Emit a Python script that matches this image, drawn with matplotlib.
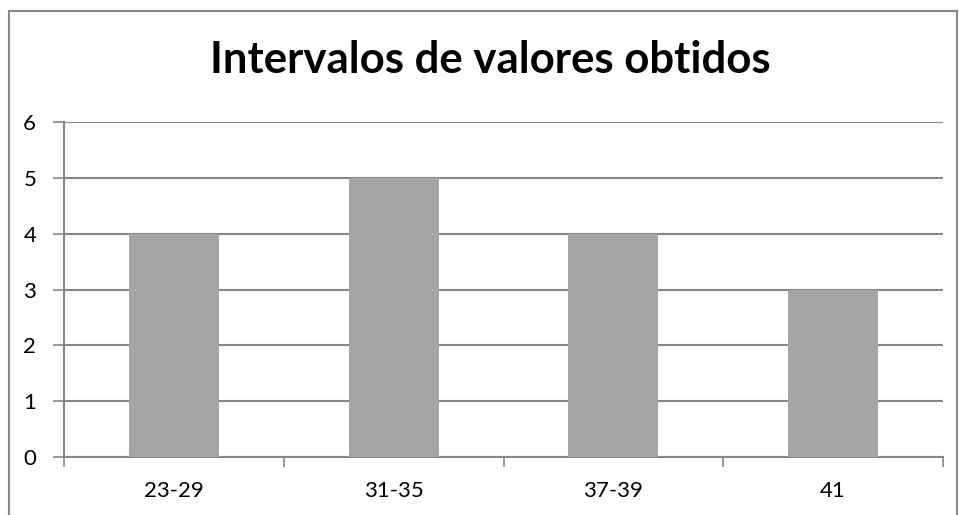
import matplotlib
matplotlib.use("Agg")
import matplotlib.pyplot as plt
from matplotlib.patches import Rectangle

categories = ["23-29", "31-35", "37-39", "41"]
values = [4, 5, 4, 3]
y_ticks = [0, 1, 2, 3, 4, 5, 6]
title = "Intervalos de valores obtidos"

plt.rcParams["font.family"] = ["Lato", "DejaVu Sans"]

W, H = 959, 515
fig = plt.figure(figsize=(W / 100, H / 100), dpi=100)

# outer chart frame
fig.patches.append(Rectangle((8.5 / W, -0.01), (956.5 - 8.5) / W, 1 - 10.5 / H + 0.01,
                             transform=fig.transFigure, fill=False,
                             edgecolor="#868686", linewidth=1.5))

ax = fig.add_axes([64 / W, (H - 457) / H, (943 - 64) / W, (457 - 122) / H])
x = range(len(categories))
ax.bar(x, values, width=0.41, color="#A5A5A5", zorder=3)

ax.set_xlim(-0.5, len(categories) - 0.5)
ax.set_ylim(0, 6)
ax.set_yticks(y_ticks)
ax.set_yticklabels([str(v) for v in y_ticks], fontsize=16)
ax.set_xticks(list(x))
ax.set_xticklabels(categories, fontsize=16)
ax.tick_params(axis="x", length=0, pad=17)
ax.tick_params(axis="y", length=8, width=1.2, color="#868686", pad=12)

# category boundary ticks
ax.set_xticks([i - 0.5 for i in range(len(categories) + 1)], minor=True)
ax.tick_params(axis="x", which="minor", length=7, width=1.2, color="#868686")

ax.yaxis.grid(True, color="#868686", linewidth=1.5, zorder=0)
for side in ["top", "right"]:
    ax.spines[side].set_visible(False)
for side in ["left", "bottom"]:
    ax.spines[side].set_color("#868686")
    ax.spines[side].set_linewidth(1.5)

fig.text(490 / W, 1 - 60 / H, title, ha="center", va="center",
         fontsize=31.5, fontweight="bold")

fig.savefig("out.png", dpi=100)
